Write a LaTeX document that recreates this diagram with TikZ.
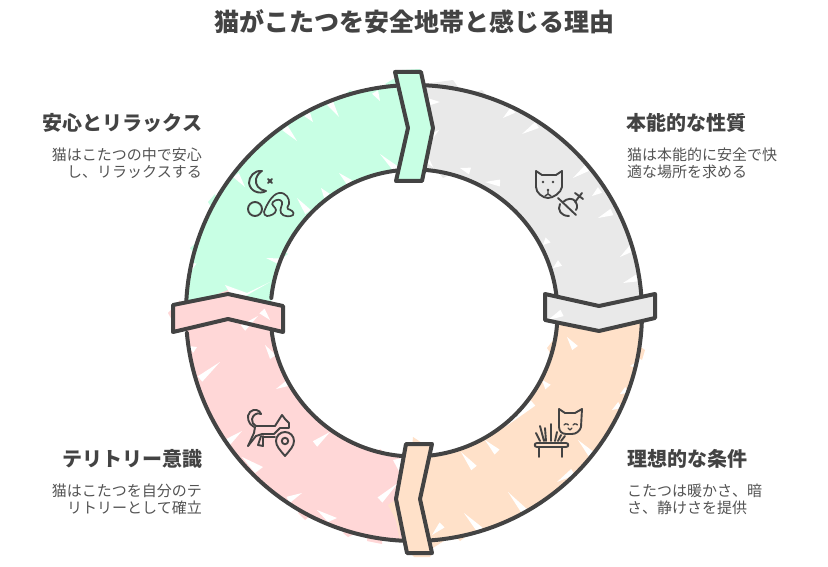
\documentclass[tikz,border=0pt]{standalone}
\usepackage{fontspec}
\setmainfont{Noto Sans CJK JP}
\usetikzlibrary{calc}
\definecolor{ink}{HTML}{434343}
\definecolor{txt}{HTML}{535353}
\definecolor{cgreen}{HTML}{C8FFE4}
\definecolor{cgray}{HTML}{E9E9E9}
\definecolor{corange}{HTML}{FFE1C9}
\definecolor{cpink}{HTML}{FFD7D7}
\tikzset{
 edge/.style={draw=ink,line width=4pt,line join=round,line cap=round},
 icon/.style={draw=ink,line width=1.9pt,line join=round,line cap=round},
 head/.style={font=\fontsize{20pt}{24pt}\selectfont\bfseries,text=ink,inner sep=0pt},
 body/.style={font=\fontsize{15pt}{17.5pt}\selectfont,text=txt,inner sep=0pt},
}
% white wedge: base centre (#1,#2), tip (#3,#4)
\newcommand\nt[4]{\fill[white] ($(#1,#2)!3.5pt!90:(#3,#4)$)--(#3,#4)--($(#1,#2)!3.5pt!-90:(#3,#4)$)--cycle;}
\newcommand\sect[4]{(c)++(#1:228pt) arc[start angle=#1,end angle=#2,radius=228pt] -- ($(c)+(#4:143.5pt)$) arc[start angle=#4,end angle=#3,radius=143.5pt] -- cycle}
\begin{document}
\begin{tikzpicture}[x=1pt,y=-1pt]
\useasboundingbox (0,0) rectangle (828,567);
\coordinate (c) at (414,313);
% sketchy fills
\fill[cgray] \sect{92}{2}{92}{2};
\fill[corange] \sect{2}{-92}{2}{-92};
\fill[cpink] \sect{-88}{-182}{-88}{-182};
\fill[cgreen] \sect{182}{88}{182}{88};
% overflow patches
\fill[cgray] (424,84)--(453,80)--(458,87)--(440,92)--cycle;
\fill[cgray] (465,95)--(482,90)--(487,96)--(475,100)--cycle;
\fill[cgray] (427,158)--(443,178)--(463,168)--(445,160)--cycle;
\fill[cgreen] (385,84)--(395,78)--(400,92)--cycle;
\fill[cgreen] (343,97)--(350,90)--(358,94)--(350,100)--cycle;
\fill[cgreen] (208,202)--(215,194)--(220,208)--(213,210)--cycle;
\fill[cgreen] (190,248)--(196,243)--(200,252)--(195,255)--cycle;
\fill[cgreen] (282,250)--(288,254)--(275,263)--(270,258)--cycle;
\fill[cgreen] (402,70)--(420,69)--(421,74)--(400,74)--cycle;
\fill[cpink] (168,313)--(180,300)--(180,322)--(173,322)--cycle;
\fill[cpink] (215,295)--(228,290)--(242,296)--(228,302)--cycle;
\fill[cpink] (298,513)--(305,520)--(317,510)--(307,505)--cycle;
\fill[cpink] (343,533)--(348,537)--(357,533)--(350,527)--cycle;
\fill[cpink] (367,538)--(367,541)--(382,544)--(382,537)--cycle;
\fill[cpink] (380,449)--(390,457)--(388,465)--(372,458)--cycle;
\fill[corange] (547,348)--(558,334)--(565,345)--(552,356)--cycle;
\fill[corange] (527,398)--(532,392)--(538,398)--(532,404)--cycle;
\fill[corange] (638,345)--(645,350)--(642,360)--(636,356)--cycle;
\fill[corange] (455,536)--(460,541)--(468,535)--cycle;
\fill[corange] (413,437)--(422,443)--(412,448)--cycle;
\fill[corange] (388,505)--(398,498)--(400,540)--(396,520)--cycle;
\fill[corange] (440,525)--(450,537)--(433,548)--(430,535)--cycle;
\fill[corange] (410,553)--(432,553)--(430,557)--(414,557)--cycle;
% white wedges: green
\nt{375}{92}{380}{101}\nt{330}{103}{339}{117}\nt{307}{114}{313}{122}\nt{285}{128}{297}{141}\nt{236}{175}{245}{187}
\nt{397}{170}{380}{154}\nt{350}{183}{339}{173}\nt{327}{196}{321}{188}\nt{308}{212}{297}{198}
\nt{282}{262}{266}{258}\nt{193}{263}{192}{270}
\fill[white] (225,285)--(235,302)--(270,282)--(247,293)--cycle;
% white wedges: gray
\nt{429}{102}{440}{102}\nt{429}{138}{439}{130}\nt{513}{110}{503}{118}\nt{537}{125}{522}{134}\nt{587}{168}{573}{178}
\nt{470}{171}{460}{168}\nt{500}{183}{485}{182}\nt{425}{158}{433}{167}
\nt{612}{212}{598}{218}\nt{632}{248}{620}{257}\nt{637}{278}{623}{283}\nt{600}{190}{592}{196}
\nt{560}{263}{553}{268}\nt{548}{240}{543}{245}
% white wedges: orange
\nt{575}{348}{567}{337}\nt{548}{387}{542}{380}\nt{533}{403}{505}{427}\nt{638}{365}{630}{366}
\nt{627}{390}{620}{394}\nt{620}{405}{612}{410}\nt{592}{455}{578}{440}\nt{573}{472}{557}{482}
\nt{525}{512}{508}{492}\nt{480}{530}{464}{513}\nt{497}{452}{485}{440}\nt{474}{468}{461}{452}\nt{442}{525}{432}{535}
% white wedges: pink
\nt{200}{379}{220}{362}\nt{195}{350}{189}{346}\nt{273}{357}{265}{345}\nt{290}{382}{276}{389}
\nt{228}{442}{242}{431}\nt{288}{500}{302}{493}\nt{315}{444}{330}{432}\nt{380}{500}{398}{483}
\fill[white] (242,457)--(255,473)--(263,467)--cycle;
\fill[white] (317,510)--(328,522)--(337,518)--cycle;
\fill[white] (393,460)--(402,458)--(402,477)--cycle;
% ring outlines
\draw[edge] (c)++(88.5:228pt) arc[start angle=88.5,end angle=4.5,radius=228pt];
\draw[edge] (c)++(86.5:143.5pt) arc[start angle=86.5,end angle=7,radius=143.5pt];
\draw[edge] (c)++(-2:228pt) arc[start angle=-2,end angle=-85.5,radius=228pt];
\draw[edge] (c)++(-4:143.5pt) arc[start angle=-4,end angle=-84,radius=143.5pt];
\draw[edge] (c)++(-92:228pt) arc[start angle=-92,end angle=-175,radius=228pt];
\draw[edge] (c)++(-92:143.5pt) arc[start angle=-92,end angle=-172.4,radius=143.5pt];
\draw[edge] (c)++(177:228pt) arc[start angle=177,end angle=94.3,radius=228pt];
\draw[edge] (c)++(174:143.5pt) arc[start angle=174,end angle=97,radius=143.5pt];
% arrow bands
\fill[cgreen] (395,72)--(421,72)--(433,128)--(422,181)--(396,181)--(408,128)--cycle;
\fill[cgray] (545,294)--(599,306)--(655,294)--(655,318)--(599,331)--(545,320)--cycle;
\fill[corange] (406,444)--(432,444)--(420,499)--(432,553)--(407,553)--(396,499)--cycle;
\fill[cpink] (173,305)--(228,294)--(283,306)--(283,332)--(228,319)--(173,332)--cycle;
\nt{562}{313}{548}{320}\nt{243}{328}{258}{316}\nt{262}{311}{270}{320}
\draw[edge] (395,72)--(421,72)--(433,128)--(422,181)--(396,181)--(408,128)--cycle;
\draw[edge] (545,294)--(599,306)--(655,294)--(655,318)--(599,331)--(545,320)--cycle;
\draw[edge] (406,444)--(432,444)--(420,499)--(432,553)--(407,553)--(396,499)--cycle;
\draw[edge] (173,305)--(228,294)--(283,306)--(283,332)--(228,319)--(173,332)--cycle;
% icon: cat and ball
\draw[icon] (536,171)--(542,175)--(556,175)--(562,171)--(562,187) .. controls (561,193) and (553,198) .. (548,198) .. controls (543,198) and (536,193) .. (536,187)--cycle;
\fill[ink] (543,182) circle[radius=1.4pt] (553,182) circle[radius=1.4pt] (548,190) circle[radius=1.3pt];
\draw[icon,line width=1.4pt] (548,190)--(548,194) (545,196)--(548,194)--(551,196);
\draw[icon] (558,198)--(576,215);
\draw[icon] (563,202) .. controls (567,198) and (573,198) .. (575,201) .. controls (577,204) and (578,207) .. (576,210);
\draw[icon] (560,204) .. controls (557,210) and (561,216) .. (569,216);
\draw[icon] (575,202)--(582,193) (575,193)--(583,199);
% icon: crescent and figure
\draw[icon] (262,171) .. controls (254,170) and (249,177) .. (249,183) .. controls (250,191) and (259,195) .. (266,191) .. controls (259,190) and (255,185) .. (256,179) .. controls (257,175) and (260,172) .. (262,171);
\draw[icon,line width=1.8pt] (268,179)--(272,183) (272,179)--(268,183);
\draw[icon] (255,209) circle[radius=7pt];
\draw[icon,line width=1.7pt] (264,212) .. controls (266,206) and (272,194) .. (279,193) .. controls (286,192) and (290,199) .. (289,204) .. controls (288,207) and (286,208) .. (288,209) .. controls (291,210) and (295,212) .. (293,215) .. controls (291,217) and (283,217) .. (281,213) .. controls (279,209) and (283,205) .. (282,202) .. controls (281,199) and (276,199) .. (273,202) .. controls (270,205) and (276,207) .. (276,210) .. controls (276,214) and (270,216) .. (267,216) .. controls (265,216) and (264,214) .. (264,212) -- cycle;
% icon: cat and pin
\draw[icon] (254,427) .. controls (248,424) and (246,416) .. (250,412) .. controls (254,408) and (260,410) .. (261,414);
\draw[icon] (261,414) .. controls (257,412) and (253,415) .. (252,419) .. controls (252,422) and (253,425) .. (256,426);
\draw[icon] (256,426)--(275,426)--(282,415)--(285,419)--(289,423)--(289,428)--(280,428)--(274,434)--(262,434)--(256,436)--(248,446);
\draw[icon] (255,427)--(254,433)--(248,446);
\draw[icon] (261,436)--(258,445)--(263,446)--(263,436) (263,437)--(275,437);
\draw[icon] (285,456) .. controls (280,450) and (276,446) .. (276,441) .. controls (276,436) and (280,432) .. (285,432) .. controls (290,432) and (294,436) .. (294,441) .. controls (294,446) and (290,450) .. (285,456)--cycle;
\draw[icon] (285,441) circle[radius=3.2pt];
% icon: cat and bed
\draw[icon] (559,409)--(565,413)--(575,413)--(582,409)--(581,427) .. controls (580,431) and (576,434) .. (572,434)--(566,434) .. controls (562,434) and (559,431) .. (559,427)--cycle;
\draw[icon,line width=1.3pt] (564,425) arc[start angle=150,end angle=30,radius=2.5pt] (573,425) arc[start angle=150,end angle=30,radius=2.5pt] (568,428)--(570,430)--(572,428);
\draw[icon] (540,426)--(544,441) (545,428)--(546,441) (551,424)--(551,441) (536,433)--(540,441) (557,432)--(555,441) (561,435)--(558,441) (565,436)--(561,441);
\draw[icon] (537,443)--(566,443) .. controls (569,443) and (569,447) .. (566,447)--(537,447) .. controls (534,447) and (534,443) .. (537,443)--cycle;
\draw[icon] (539,448)--(539,457) (562,448)--(562,457);
% texts
\node[font=\fontsize{25pt}{30pt}\selectfont\bfseries,text=ink,inner sep=0pt] (title) at (414,22) {猫がこたつを安全地帯と感じる理由};
\node[head,anchor=east] (h1) at (202.5,122.5) {安心とリラックス};
\node[body,anchor=east,align=right] (b1) at (202,163.5) {猫はこたつの中で安心\\し、リラックスする};
\node[head,anchor=west] (h2) at (626,122.5) {本能的な性質};
\node[body,anchor=west,align=left] (b2) at (627,163.5) {猫は本能的に安全で快\\適な場所を求める};
\node[head,anchor=east] (h3) at (202.5,458.5) {テリトリー意識};
\node[body,anchor=east,align=right] (b3) at (202,499.5) {猫はこたつを自分のテ\\リトリーとして確立};
\node[head,anchor=west] (h4) at (627,458.5) {理想的な条件};
\node[body,anchor=west,align=left] (b4) at (627,499.5) {こたつは暖かさ、暗\\さ、静けさを提供};
\end{tikzpicture}
\end{document}
